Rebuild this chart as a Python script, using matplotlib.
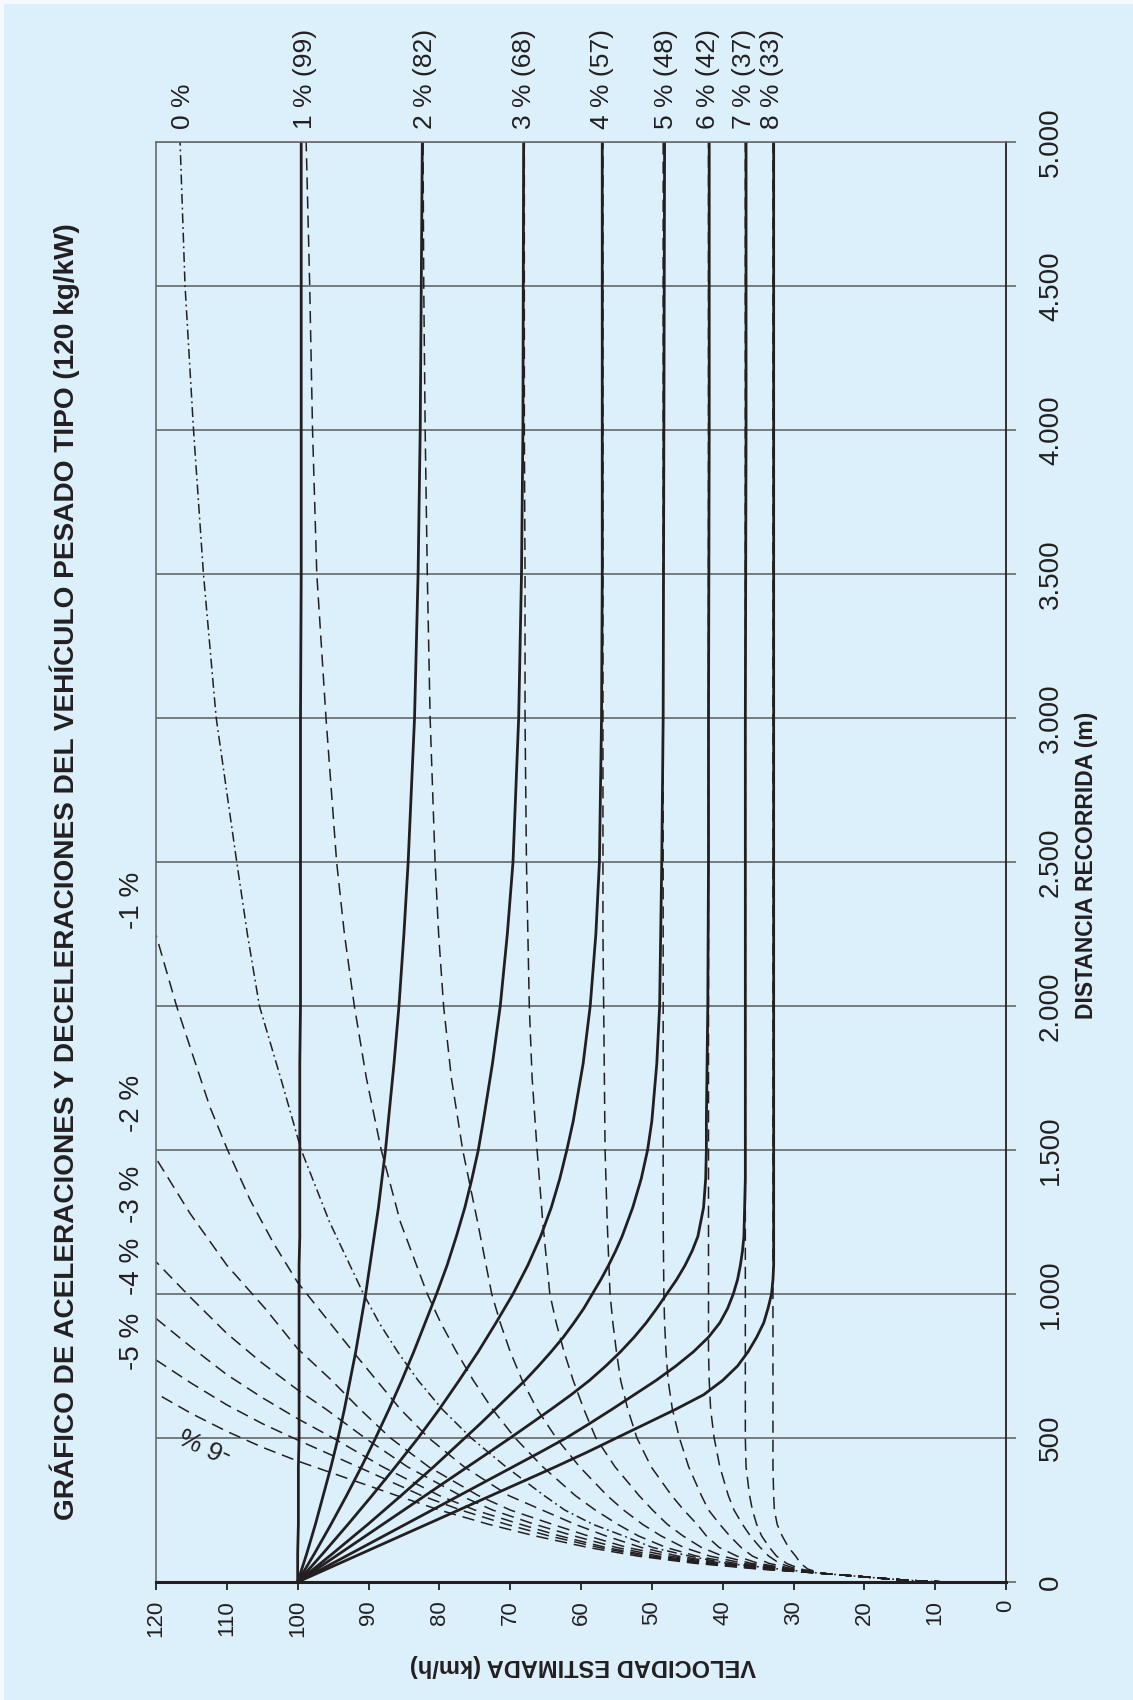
import matplotlib
matplotlib.use("Agg")
import matplotlib.pyplot as plt
from matplotlib.patches import Rectangle
from matplotlib.ticker import FuncFormatter

plt.rcParams['font.family'] = ['Liberation Sans', 'DejaVu Sans']
NARROW = ['Liberation Sans Narrow', 'Liberation Sans']

# axis ticks
vel_ticks = list(range(0, 130, 10))
dist_ticks = list(range(0, 5500, 500))

# deceleration curves (solid) starting at 100 km/h, grades 1..4 %
dec_dist = [0, 100, 200, 300, 400, 500, 600, 700, 800, 900, 1000, 1100, 1200, 1300, 1400, 1500,
            1600, 1800, 2000, 2250, 2500, 3000, 3500, 4000, 5000]
dec_1 = [100, 100, 99.9, 99.9, 99.9, 99.8, 99.8, 99.8, 99.8, 99.8, 99.8, 99.8, 99.7, 99.7, 99.7, 99.7,
         99.7, 99.7, 99.6, 99.6, 99.6, 99.6, 99.5, 99.5, 99.5]
dec_2 = [100, 98.7, 97.5, 96.4, 95.3, 94.3, 93.4, 92.6, 91.8, 91.1, 90.4, 89.8, 89.2, 88.6, 88.1, 87.6,
         87.2, 86.4, 85.7, 85.0, 84.4, 83.5, 83.0, 82.7, 82.4]
dec_3 = [100, 97.6, 95.3, 93.1, 91.0, 89.0, 87.1, 85.3, 83.6, 82.0, 80.4, 78.9, 77.6, 76.4, 75.4, 74.5,
         73.8, 72.5, 71.4, 70.4, 69.6, 68.8, 68.4, 68.2, 68.1]
dec_4 = [100, 96.4, 92.9, 89.5, 86.2, 83.0, 80.0, 77.2, 74.5, 72.0, 69.6, 67.5, 65.7, 64.2, 63.0, 62.0,
         61.1, 59.7, 58.7, 57.9, 57.4, 57.1, 57.0, 57.0, 57.0]

# deceleration curves (solid), grades 5..8 % (sharper bends, finer steps)
dec_dist_fine = [0, 100, 200, 300, 400, 450, 500, 550, 600, 650, 700, 750, 800, 850, 900, 950, 1000,
                 1050, 1100, 1150, 1200, 1300, 1400, 1500, 1600, 1800, 2000, 2500, 3000, 4000, 5000]
dec_5 = [100, 95.0, 90.1, 85.4, 80.8, 78.6, 76.4, 74.2, 72.1, 70.0, 67.9, 66.0, 64.2, 62.5, 61.0, 59.6,
         58.4, 57.2, 56.1, 55.1, 54.2, 52.7, 51.5, 50.6, 50.0, 49.3, 48.9, 48.6, 48.4, 48.3, 48.2]
dec_6 = [100, 94.0, 88.0, 82.0, 76.0, 73.0, 70.0, 67.1, 64.2, 61.4, 58.8, 56.5, 54.4, 52.5, 50.8, 49.3,
         47.9, 46.5, 45.3, 44.3, 43.5, 42.7, 42.4, 42.3, 42.3, 42.2, 42.1, 42.0, 42.0, 41.9, 41.9]
dec_7 = [100, 92.4, 84.8, 77.2, 69.6, 65.8, 62.1, 58.8, 55.6, 52.5, 49.4, 46.6, 44.1, 42.0, 40.4, 39.3,
         38.5, 37.9, 37.5, 37.2, 37.0, 36.9, 36.8, 36.8, 36.8, 36.8, 36.8, 36.8, 36.8, 36.7, 36.7]
dec_8 = [100, 90.9, 81.8, 72.7, 63.6, 59.2, 55.0, 50.8, 46.6, 42.7, 40.0, 37.9, 36.4, 35.2, 34.2, 33.6,
         33.1, 32.9, 32.8, 32.8, 32.8, 32.8, 32.8, 32.8, 32.8, 32.8, 32.8, 32.8, 32.8, 32.8, 32.8]

# common start of every acceleration curve
start_dist = [0, 3, 7, 13, 20, 30]
start_vel = [8.4, 11.7, 14.5, 17.7, 21, 26]

# acceleration curves for 0 % (dash-dot) and positive grades (dashed)
acc_dist = [45, 65, 90, 120, 160, 200, 250, 300, 400, 500, 600, 700, 800, 900, 1000, 1250, 1500,
            1750, 2000, 2250, 2500, 3000, 3500, 4000, 4500, 5000]
acc_0 = [32, 39.5, 44.7, 49.9, 54, 58.3, 62.3, 65.2, 70.6, 75.5, 79.6, 83.0, 85.9, 88.5, 90.7, 95.5, 99.5,
         102.4, 105.4, 107.1, 108.6, 111.5, 113.3, 114.7, 115.9, 116.6]
acc_1 = [31.5, 38.3, 43.7, 48, 51.9, 54.8, 58, 60.8, 65.4, 69.3, 72.5, 75.2, 77.6, 79.8, 81.7, 85.5, 88.2,
         90.3, 92.0, 93.4, 94.5, 96.0, 97.3, 97.9, 98.3, 98.8]
acc_2 = [31, 37.1, 41.8, 45.5, 48.7, 51.3, 54, 56.3, 60.2, 63.5, 66.2, 68.3, 70.0, 71.4, 72.6, 74.6, 76.7,
         78.3, 79.4, 80.1, 80.6, 81.3, 81.7, 82.0, 82.2, 82.3]
acc_3 = [31, 36, 40, 43, 45.6, 47.8, 49.9, 51.8, 55.2, 57.9, 59.6, 61.1, 62.4, 63.5, 64.4, 65.4, 66.2,
         66.9, 67.3, 67.5, 67.7, 67.9, 67.9, 68.0, 68.0, 68.0]
acc_4 = [30.5, 35, 38, 40.5, 42.3, 43.6, 45.5, 47.2, 50.1, 52.1, 53.4, 54.4, 55.0, 55.5, 55.9, 56.3, 56.6,
         56.7, 56.8, 56.9, 56.9, 56.9, 56.9, 56.9, 56.9, 56.9]
acc_5 = [30, 33.5, 35.8, 37.4, 39, 40.4, 42, 43, 44.8, 46.1, 47.1, 47.7, 48.0, 48.2, 48.3, 48.4, 48.4,
         48.4, 48.4, 48.4, 48.4, 48.4, 48.4, 48.4, 48.4, 48.4]
acc_6 = [29.5, 32, 33.5, 34.7, 36.1, 37.2, 38.4, 39.2, 40.4, 41.2, 41.7, 41.9, 42.0, 42.0, 42.0, 42.0, 42.0,
         42.0, 42.0, 42.0, 42.0, 42.0, 42.0, 42.0, 42.0, 42.0]
acc_7 = [29, 31, 32.4, 33.4, 34.5, 35.2, 35.8, 36.2, 36.7, 36.8, 36.8, 36.8, 36.8, 36.8, 36.8, 36.8, 36.8,
         36.8, 36.8, 36.8, 36.8, 36.8, 36.8, 36.8, 36.8, 36.8]
acc_8 = [28, 29, 29.7, 30.7, 31.6, 32.3, 32.7, 32.8, 32.9, 32.9, 32.9, 32.9, 32.9, 32.9, 32.9, 32.9, 32.9,
         32.9, 32.9, 32.9, 32.9, 32.9, 32.9, 32.9, 32.9, 32.9]

# acceleration curves for negative grades (dashed), up to 120 km/h
neg1_dist = [45, 65, 90, 120, 160, 200, 250, 300, 400, 500, 600, 800, 1040, 1176, 1326, 1506, 1650, 2000, 2247]
neg1_vel = [32.5, 40, 46.3, 51.5, 56.5, 60.8, 65.5, 70.2, 76.5, 81.5, 85.5, 92.2, 100, 103.4, 106.7, 110, 112.4, 117.1, 120]
neg2_dist = [45, 65, 90, 120, 160, 200, 250, 300, 400, 500, 600, 700, 810, 950, 1100, 1280, 1471]
neg2_vel = [33, 40.8, 47.5, 53.5, 59, 64, 70, 74.5, 81.5, 86.9, 91.2, 95.2, 100, 104.6, 110, 115.2, 120]
neg3_dist = [45, 65, 90, 120, 160, 200, 250, 300, 400, 500, 600, 667, 760, 863, 985, 1112]
neg3_vel = [33.5, 41.5, 49, 55, 61, 66.5, 72.5, 77, 84.5, 90.5, 96, 100, 105, 110, 115, 120]
neg4_dist = [45, 65, 90, 120, 160, 200, 250, 300, 400, 500, 567, 640, 720, 815, 915]
neg4_vel = [34, 42.3, 50, 56.5, 63, 68.5, 75, 80, 88, 95, 100, 105, 110, 115, 120]
neg5_dist = [45, 65, 90, 120, 160, 200, 250, 300, 400, 493, 550, 615, 690, 771]
neg5_vel = [34.5, 43, 51, 57.5, 64.5, 70.5, 77, 82.5, 91.5, 100, 105, 110, 115, 120]
neg6_dist = [45, 65, 90, 120, 160, 200, 250, 300, 360, 420, 468, 523, 585, 655]
neg6_vel = [35, 44, 52, 59, 66.5, 73, 80, 86, 93, 100, 105, 110, 115, 120]

# labels
grade_labels = ["1 % (99)", "2 % (82)", "3 % (68)", "4 % (57)", "5 % (48)", "6 % (42)", "7 % (37)", "8 % (33)"]
crawl_speed = [99, 82, 68, 57, 48, 42, 37, 33]
neg_labels = ["-1 %", "-2 %", "-3 %", "-4 %", "-5 %"]
neg_label_dist = [2368, 1663, 1345, 1095, 835]

INK = '#231f20'
GRID = '#5a5a5a'
BG = '#dcf0fc'

fig = plt.figure(figsize=(11.33, 17.0), dpi=100, facecolor=BG)
# thin light edge at the top and left of the scanned page
fig.patches.append(Rectangle((0, 1 - 4 / 1700), 1, 4 / 1700, transform=fig.transFigure,
                             facecolor='#f3f9fd', edgecolor='none'))
fig.patches.append(Rectangle((0, 0), 4 / 1133, 1, transform=fig.transFigure,
                             facecolor='#f3f9fd', edgecolor='none'))

ax = fig.add_axes([156 / 1133, 1 - 1582 / 1700, 850 / 1133, 1440 / 1700])
ax.set_facecolor(BG)

dash = dict(color=INK, lw=1.1, linestyle=(0, (8, 4.5)))
for d_list, v_list in [(acc_dist, acc_1), (acc_dist, acc_2), (acc_dist, acc_3), (acc_dist, acc_4),
                       (acc_dist, acc_5), (acc_dist, acc_6), (acc_dist, acc_7), (acc_dist, acc_8),
                       (neg1_dist, neg1_vel), (neg2_dist, neg2_vel), (neg3_dist, neg3_vel),
                       (neg4_dist, neg4_vel), (neg5_dist, neg5_vel), (neg6_dist, neg6_vel)]:
    ax.plot(start_vel + v_list, start_dist + d_list, **dash)

ax.plot(start_vel + acc_0, start_dist + acc_dist, color=INK, lw=1.1,
        linestyle=(0, (6.5, 2.5, 1.2, 2.5)))

solid = dict(color=INK, lw=2.0, solid_capstyle='butt', solid_joinstyle='round')
for v_list in [dec_1, dec_2, dec_3, dec_4]:
    ax.plot(v_list, dec_dist, **solid)
for v_list in [dec_5, dec_6, dec_7, dec_8]:
    ax.plot(v_list, dec_dist_fine, **solid)

ax.set_xlim(120, 0)
ax.set_ylim(0, 5000)
ax.set_xticks(vel_ticks)
ax.set_yticks(dist_ticks)
ax.yaxis.tick_right()
ax.yaxis.set_major_formatter(FuncFormatter(lambda x, p: f"{int(x):,}".replace(",", ".")))
ax.set_axisbelow(True)
ax.yaxis.grid(True, color=GRID, lw=1.1)
ax.xaxis.grid(False)

ax.tick_params(axis='x', direction='out', length=6, width=1.3, color=INK, pad=7,
               labelsize=16, labelrotation=90, labelcolor=INK)
ax.tick_params(axis='y', direction='out', length=7, width=1.1, color=GRID, pad=16,
               labelsize=20, labelcolor=INK)
for lab in ax.yaxis.get_majorticklabels():
    lab.set_rotation(90)
    lab.set_rotation_mode('default')
    lab.set_va('center')
    lab.set_ha('left')
    lab.set_family(NARROW)

ax.spines['left'].set_color('#6b6b6b')
ax.spines['left'].set_linewidth(1.2)
ax.spines['top'].set_color('#6b6b6b')
ax.spines['top'].set_linewidth(1.2)
ax.spines['right'].set_color(INK)
ax.spines['right'].set_linewidth(1.3)
ax.spines['bottom'].set_color(INK)
ax.spines['bottom'].set_linewidth(2.2)

# curve labels on top
ax.annotate("0 %", xy=(acc_0[-1], 5000), xytext=(2, 9), textcoords='offset points',
            rotation=90, ha='center', va='bottom', fontsize=19, color=INK, annotation_clip=False)
for lab, v in zip(grade_labels, crawl_speed):
    ax.annotate(lab, xy=(v, 5000), xytext=(0, 9), textcoords='offset points',
                rotation=90, ha='center', va='bottom', fontsize=19, color=INK, annotation_clip=False)

# negative grade labels on the left
for lab, d in zip(neg_labels, neg_label_dist):
    ax.annotate(lab, xy=(120, d), xytext=(-17, 0), textcoords='offset points',
                rotation=90, ha='center', va='center', fontsize=20, color=INK, annotation_clip=False)
ax.text(112.9, 483, "-6 %", rotation=155, ha='center', va='center', fontsize=19,
        color=INK, rotation_mode='anchor')

fig.text(65 / 1133, 1 - 872 / 1700,
         "GRÁFICO DE ACELERACIONES Y DECELERACIONES DEL VEHÍCULO PESADO TIPO (120 kg/kW)",
         rotation=90, ha='center', va='center', fontsize=20.2, fontweight='bold', color=INK)
fig.text(1086 / 1133, 1 - 865 / 1700, "DISTANCIA RECORRIDA (m)", rotation=90,
         ha='center', va='center', fontsize=16.5, fontweight='bold', color=INK, family=NARROW)
fig.text(583 / 1133, 1 - 1665 / 1700, "VELOCIDAD ESTIMADA (km/h)", rotation=180,
         ha='center', va='center', fontsize=17, fontweight='bold', color=INK)

fig.savefig("out.png", dpi=100, facecolor=BG)
